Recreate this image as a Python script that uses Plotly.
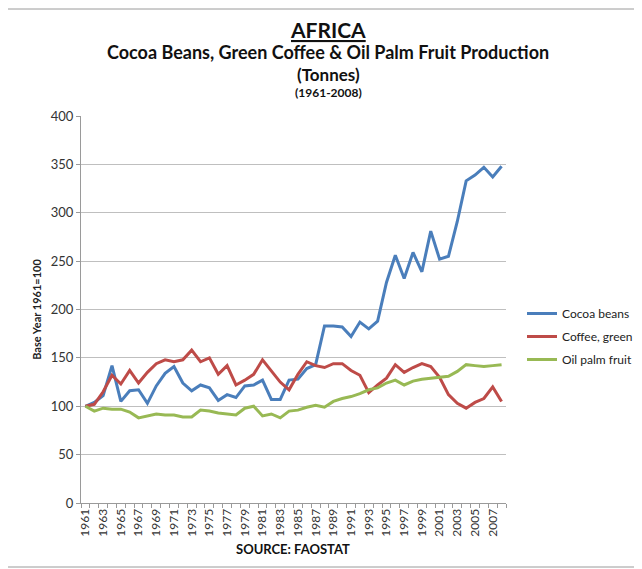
import plotly.graph_objects as go

years = list(range(1961, 2009))

cocoa_beans = [100, 104, 111, 142, 105, 116, 117, 103, 121, 134,
               141, 124, 116, 122, 119, 106, 112, 109, 121, 122,
               127, 107, 107, 127, 128, 139, 143, 183, 183, 182,
               172, 187, 180, 188, 228, 256, 232, 259, 239, 281,
               252, 255, 291, 333, 339, 347, 337, 348]

coffee_green = [100, 102, 115, 132, 123, 137, 124, 135, 144, 148,
                146, 148, 158, 146, 150, 133, 142, 122, 127, 133,
                148, 137, 125, 117, 133, 146, 142, 140, 144, 144,
                137, 132, 114, 122, 129, 143, 135, 140, 144, 141,
                130, 112, 103, 98, 104, 108, 120, 105]

oil_palm_fruit = [100, 95, 98, 97, 97, 94, 88, 90, 92, 91,
                  91, 89, 89, 96, 95, 93, 92, 91, 98, 100,
                  90, 92, 88, 95, 96, 99, 101, 99, 105, 108,
                  110, 113, 117, 119, 124, 127, 122, 126, 128, 129,
                  130, 131, 136, 143, 142, 141, 142, 143]

series_names = ["Cocoa beans", "Coffee, green", "Oil palm fruit"]
series_colors = ["#4A7EBB", "#BE4B48", "#98B954"]
tick_years = list(range(1961, 2009, 2))
y_ticks = list(range(0, 401, 50))

FONT = "Lato, Open Sans, sans-serif"

fig = go.Figure()
for i, (name, vals, col) in enumerate(zip(series_names, [cocoa_beans, coffee_green, oil_palm_fruit], series_colors)):
    fig.add_trace(go.Scatter(x=years, y=vals, mode="lines", name=name,
                             legendgroup="g%d" % i,
                             line=dict(color=col, width=3)))

# page has an 8px body margin; target pixel positions below are in screenshot coords
OFF = 8
W, H = 642 - OFF, 569 - OFF
L, R, T, B = 81, 506, 116, 503
def px(x):
    return (x - L) / (R - L)
def py(y):
    return (B - y) / (B - T)

fig.update_layout(
    width=W, height=H,
    margin=dict(l=L - OFF, r=642 - R, t=T - OFF, b=569 - B, autoexpand=False),
    paper_bgcolor="white", plot_bgcolor="white",
    font=dict(family=FONT, color="#222222"),
    showlegend=True,
    legend=dict(x=px(522), y=py(299), xanchor="left", yanchor="top",
                bgcolor="rgba(0,0,0,0)", font=dict(size=12, color="#222222"),
                tracegroupgap=4),
    xaxis=dict(range=[1960.5, 2008.5], tickmode="array", tickvals=tick_years,
               ticktext=[str(y) for y in tick_years], tickangle=-90,
               ticks="", tickfont=dict(size=12, color="#333333"),
               showgrid=False, showline=True, linecolor="#9A9A9A", linewidth=1,
               zeroline=False,
               minor=dict(tick0=1960.5, dtick=1, ticks="outside", ticklen=4,
                          tickcolor="#9A9A9A", showgrid=False)),
    yaxis=dict(range=[0, 400], tickvals=y_ticks, ticks="outside", ticklen=4,
               tickcolor="#9A9A9A", tickfont=dict(size=13, color="#333333"),
               showgrid=True, gridcolor="#BFBFBF", gridwidth=1,
               showline=True, linecolor="#9A9A9A", linewidth=1, zeroline=False,
               title=dict(text="<b>Base Year 1961=100</b>", font=dict(size=11, color="#222222"),
                          standoff=6)),
)

annos = [
    dict(text="<b><u>AFRICA</u></b>", x=px(328), y=py(30), size=21),
    dict(text="<b>Cocoa Beans, Green Coffee &amp; Oil Palm Fruit Production</b>", x=px(328), y=py(52), size=18),
    dict(text="<b>(Tonnes)</b>", x=px(328), y=py(74), size=17),
    dict(text="<b>(1961-2008)</b>", x=px(328), y=py(93), size=12),
    dict(text="<b>SOURCE: FAOSTAT</b>", x=px(293), y=py(549), size=13),
]
for a in annos:
    fig.add_annotation(text=a["text"], x=a["x"], y=a["y"], xref="paper", yref="paper",
                       xanchor="center", yanchor="middle", showarrow=False,
                       font=dict(size=a["size"], family=FONT, color="#111111"))

# outer frame
fig.add_shape(type="rect", xref="paper", yref="paper",
              x0=px(7), x1=px(641), y0=py(567), y1=py(9),
              line=dict(color="#9A9A9A", width=1), layer="below")

fig.write_html("out.html")
